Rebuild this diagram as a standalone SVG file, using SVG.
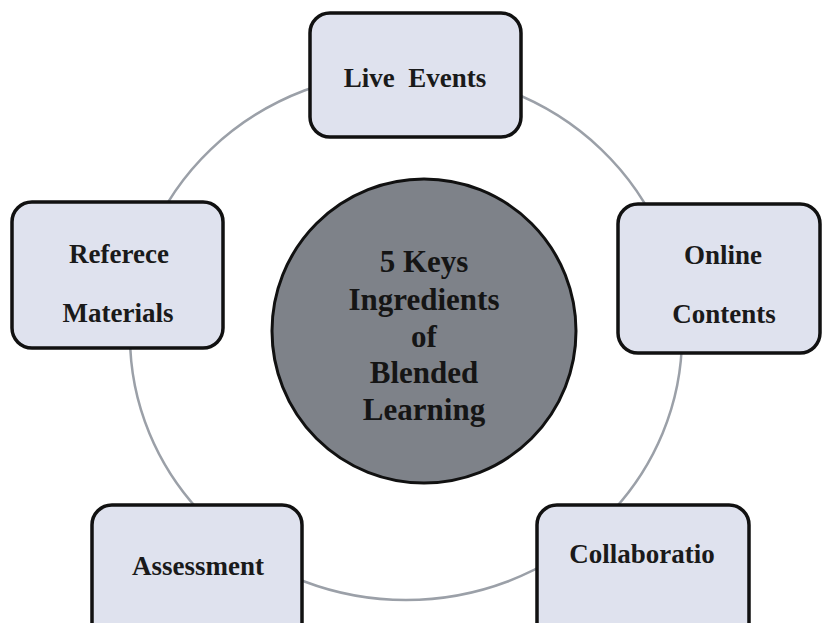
<svg xmlns="http://www.w3.org/2000/svg" width="823" height="623" viewBox="0 0 823 623">
<style>
.box{fill:#dfe2ee;stroke:#111;stroke-width:3.5}
.lbl{font-family:"Liberation Serif","Times New Roman",serif;font-weight:bold;font-size:27px;fill:#1a1a1a;text-anchor:middle}
.ctr{font-family:"Liberation Serif","Times New Roman",serif;font-weight:bold;font-size:31px;fill:#151515;text-anchor:middle}
</style>
<rect width="823" height="623" fill="#ffffff"/>
<g id="connectors">
<ellipse cx="406" cy="336" rx="276" ry="264" fill="none" stroke="#9ba0a8" stroke-width="2.5"/>
</g>
<g id="center">
<circle cx="424" cy="331" r="152" fill="#7e8289" stroke="#111" stroke-width="3"/>
<text class="ctr" x="424" y="272">5 Keys</text>
<text class="ctr" x="424" y="310">Ingredients</text>
<text class="ctr" x="424" y="347">of</text>
<text class="ctr" x="424" y="383">Blended</text>
<text class="ctr" x="424" y="420">Learning</text>
</g>
<g id="live-events">
<rect class="box" x="310" y="13" width="211" height="124" rx="20"/>
<text class="lbl" x="415" y="87" xml:space="preserve">Live  Events</text>
</g>
<g id="reference-materials">
<rect class="box" x="12" y="202" width="211" height="146" rx="20"/>
<text class="lbl" x="119" y="263">Referece</text>
<text class="lbl" x="118" y="322">Materials</text>
</g>
<g id="online-contents">
<rect class="box" x="618" y="204" width="202" height="149" rx="20"/>
<text class="lbl" x="723" y="264">Online</text>
<text class="lbl" x="724" y="323">Contents</text>
</g>
<g id="assessment">
<rect class="box" x="92" y="505" width="210" height="140" rx="20"/>
<text class="lbl" x="198" y="575">Assessment</text>
</g>
<g id="collaboration">
<rect class="box" x="537" y="505" width="212" height="140" rx="20"/>
<text class="lbl" x="642" y="563">Collaboratio</text>
</g>
</svg>
